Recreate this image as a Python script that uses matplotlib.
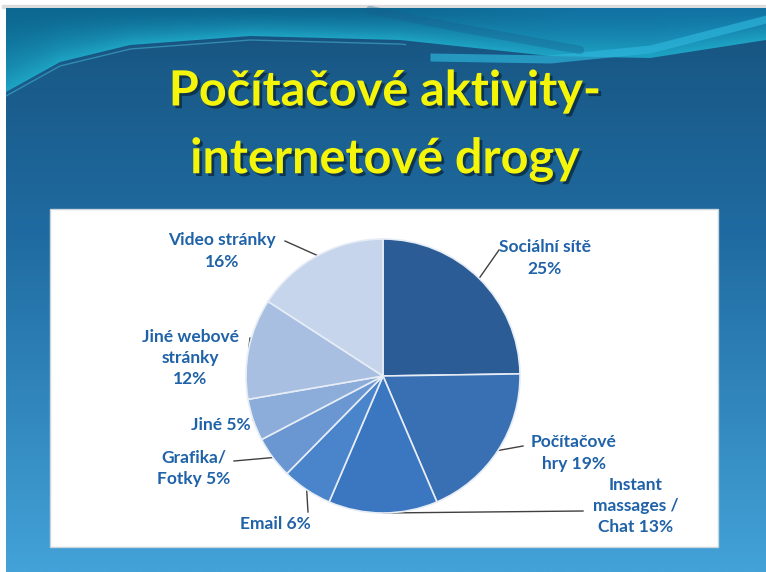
import numpy as np
import matplotlib
matplotlib.use("Agg")
import matplotlib.pyplot as plt
from matplotlib.colors import LinearSegmentedColormap, to_rgb
import matplotlib.patheffects as pe

# data
categories = ["Sociální sítě", "Počítačové hry", "Instant massages / Chat", "Email",
              "Grafika/ Fotky", "Jiné", "Jiné webové stránky", "Video stránky"]
values = [25, 19, 13, 6, 5, 5, 12, 16]
label_texts = ["Sociální sítě\n25%", "Počítačové\nhry 19%", "Instant\nmassages /\nChat 13%",
               "Email 6%", "Grafika/\nFotky 5%", "Jiné 5%", "Jiné webové\nstránky\n12%",
               "Video stránky\n16%"]
slice_colors = ["#2b5c96", "#3970b3", "#3b76c0", "#4a84cb", "#6a97d2", "#8cacda",
                "#a8bfe1", "#c6d4ec"]

# label placement (pixels, image coords): text centre, where the leader line ends
label_pos = [(545, 258), (574, 453), (636, 506), (275, 524),
             (194, 468), (221, 425), (190, 358), (222, 251)]
line_end = [(499, 250), (523, 446), (583, 511), (308, 512),
            (234, 461), (256, 424), (250, 338), (285, 241)]

W, H = 766, 572
fig = plt.figure(figsize=(W / 100, H / 100), dpi=100)
fig.patch.set_facecolor("white")

bg = fig.add_axes([0, 0, 1, 1])
bg.set_xlim(0, W)
bg.set_ylim(H, 0)
bg.axis("off")

# slide background: vertical gradient
grad = LinearSegmentedColormap.from_list(
    "slide", [(0, "#174f7c"), (0.1, "#195a88"), (0.4, "#1f6ba1"), (1, "#43a2d8")])
g = np.linspace(0, 1, 300).reshape(-1, 1)
bg.imshow(g, cmap=grad, extent=[6, W, H, 8], aspect="auto", zorder=0)
bg.add_patch(plt.Rectangle((2, 5), W, 3, color="#dcdcdc", zorder=1))

# teal area above the top wave (rgba image, transparent below the wave edge)
xs = np.arange(6, W) + 0.5
ys = np.arange(8, 100) + 0.5
edge = np.interp(xs, [6, 60, 130, 250, 400, 550, 650, W], [92, 62, 45, 36, 40, 56, 58, 40])
X, Y = np.meshgrid(xs, ys)
E = edge[None, :]
t = np.clip((Y - 8) / (E - 8), 0, 1) ** 1.6
top_c = np.array(to_rgb("#0d6891"))
low_c = np.array(to_rgb("#1ea4c4"))
right_mix = np.clip((X - 380) / 200, 0, 1)[..., None]
top_col = top_c * (1 - right_mix) + np.array(to_rgb("#1273a3")) * right_mix
rgba = np.zeros(X.shape + (4,))
rgba[..., :3] = top_col * (1 - t[..., None]) + low_c * t[..., None]
rgba[..., 3] = np.clip(E - Y + 0.5, 0, 1)
bg.imshow(rgba, extent=[6, W, 100, 8], aspect="auto", zorder=1, interpolation="bilinear")

# wave highlights
bg.plot(xs[:400], edge[:400] + 4, color="#4cc0dc", lw=1.0, alpha=0.5, zorder=2)
hx = np.linspace(430, W, 200)
hl = np.interp(hx, [430, 550, 650, W], [58, 60, 50, 20])
bg.fill_between(hx, hl - 5, hl + 3, color="#2db4da", alpha=0.7, lw=0, zorder=2)
sx = np.linspace(370, 580, 100)
bg.plot(sx, np.interp(sx, [370, 460, 580], [10, 28, 50]), color="#185f8e", lw=6,
        alpha=0.35, zorder=2, solid_capstyle="round")

# title
title_fx = [pe.withSimplePatchShadow(offset=(2, -2), shadow_rgbFace="#0a2a40", alpha=0.8)]
for txt, y in [("Počítačové aktivity-", 91), ("internetové drogy", 159)]:
    bg.text(385, y, txt, ha="center", va="center", fontsize=35, fontweight="bold",
            family="Lato", color="#f5f50a", path_effects=title_fx, zorder=3)

# white chart box
bg.add_patch(plt.Rectangle((50, 209), 668, 338, facecolor="white", edgecolor="#c8d4dc",
                           lw=1, zorder=2))

# pie
cx, cy, r = 383, 376, 137
pie_ax = fig.add_axes([(cx - r) / W, (H - cy - r) / H, 2 * r / W, 2 * r / H])
wedges, _ = pie_ax.pie(values, colors=slice_colors, startangle=90, counterclock=False,
                       wedgeprops=dict(edgecolor="#e6edf6", linewidth=1.2))
pie_ax.set_xlim(-1, 1)
pie_ax.set_ylim(-1, 1)
pie_ax.axis("off")

to_bg = bg.transData.inverted()
for w, txt, (tx, ty), (ex, ey) in zip(wedges, label_texts, label_pos, line_end):
    ang = np.deg2rad((w.theta1 + w.theta2) / 2)
    px, py = to_bg.transform(pie_ax.transData.transform((np.cos(ang), np.sin(ang))))
    bg.plot([px, ex], [py, ey], color="#404040", lw=1, zorder=4)
    bg.text(tx, ty, txt, ha="center", va="center", fontsize=12.5, fontweight="bold",
            family="Lato", color="#1f62a8", linespacing=1.4, multialignment="center",
            zorder=5)

fig.savefig("out.png", dpi=100)
